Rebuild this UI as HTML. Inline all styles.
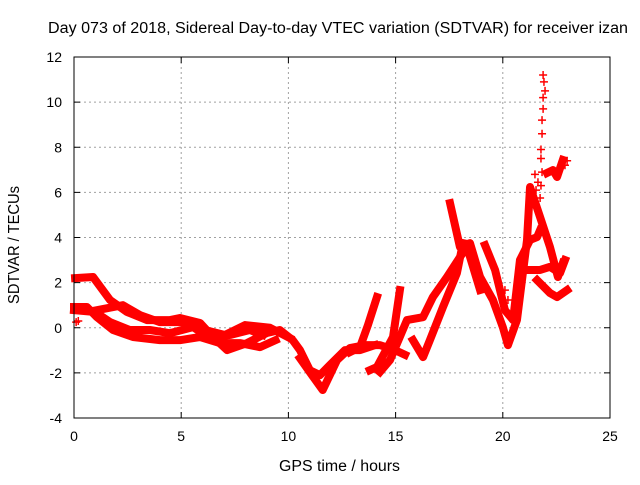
<!DOCTYPE html>
<html><head><meta charset="utf-8"><style>
body{margin:0;background:#fff}
svg text{font-family:"Liberation Sans",sans-serif;font-size:14px;fill:#000}
</style></head><body>
<svg width="640" height="480" xmlns="http://www.w3.org/2000/svg">
<rect width="640" height="480" fill="#fff"/>
<g id="grid"></g>
<g id="marks"></g>
<rect x="74" y="57" width="536" height="361" fill="none" stroke="#000" stroke-width="1"/>
<g id="ticks"></g>
<text x="48" y="33" textLength="580" lengthAdjust="spacingAndGlyphs" style="font-size:15.5px">Day 073 of 2018, Sidereal Day-to-day VTEC variation (SDTVAR) for receiver izan</text>
<text x="279" y="471" textLength="121" lengthAdjust="spacingAndGlyphs" style="font-size:15.5px">GPS time / hours</text>
<text transform="translate(19,304) rotate(-90)" textLength="118" lengthAdjust="spacingAndGlyphs" style="font-size:15.5px">SDTVAR / TECUs</text>
</svg>
<script>
const xTicks=[0,5,10,15,20,25];
const yTicks=[-4,-2,0,2,4,6,8,10,12];
const curveA=[[0.05,2.2],[0.89,2.25],[1.68,1.23],[2.47,0.7],[3.4,0.34],[4.48,0.34],[4.94,0.43],[5.88,0.21],[6.48,-0.41],[7.14,-0.99],[8.07,-0.68],[9.0,-0.23],[9.6,-0.1],[10.2,-0.55],[10.54,-0.99],[11.0,-1.88],[11.47,-2.1],[11.94,-1.65],[12.64,-0.99],[13.34,-0.99],[14.04,-0.77]];
const curveB=[[0,0.92],[0.6,0.92],[1.07,0.47],[1.82,-0.1],[2.75,-0.41],[4.0,-0.55],[4.94,-0.55],[5.88,-0.41],[6.8,-0.68],[7.74,-0.68],[8.68,-0.86],[9.4,-0.55]];
const curveC=[[0,0.78],[0.98,0.7],[1.68,0.25],[2.6,-0.1],[3.54,-0.1],[4.48,-0.24],[5.55,0.03],[6.34,-0.46],[7.28,-0.32],[8.2,-0.1],[8.8,-0.32]];
const curveD=[[1.07,0.78],[2.28,1.0],[3.08,0.56],[4.0,0.25],[5.18,0.25],[6.1,-0.1],[7.04,-0.32],[7.98,0.12],[9.14,0],[10.07,-0.46]];
const curveF=[[10.54,-1.35],[11.1,-2.1],[11.6,-2.76],[12.27,-1.43],[12.87,-0.9],[13.57,-0.77],[14.27,-0.77],[14.97,-0.99],[15.44,-1.2]];
const curveG=[[12.87,-1.08],[13.34,-0.86],[13.71,0.12],[14.13,1.36]];
const curveH=[[13.8,-1.88],[14.13,-1.74],[14.88,-0.41],[15.2,1.67]];
const curveI=[[14.27,-1.96],[14.74,-1.43],[15.53,0.34],[16.28,0.47],[16.74,1.36],[17.4,2.25],[18.0,3.13],[18.33,3.58],[18.94,1.67]];
const curveJ=[[15.81,-0.55],[16.28,-1.3],[16.6,-0.55],[17.21,0.92],[17.86,2.42],[18.14,3.75]];
const curveK=[[17.54,5.52],[18.0,3.58],[18.47,3.75],[18.94,2.25],[19.54,1.23],[20.0,0.03],[20.24,-0.77],[20.66,0.34],[21.13,3.89],[21.27,6.24],[21.74,4.9],[22.2,3.58],[22.57,2.25],[22.8,2.87]];
const curveL=[[19.17,3.66],[19.64,2.56],[20.1,0.78],[20.48,0.34],[20.8,3.0],[21.27,3.89],[21.6,4.02],[21.74,4.33]];
const curveL2=[[20.99,2.56],[21.74,2.56],[22.2,2.7],[22.67,2.42],[22.9,3.0]];
const curveM=[[21.6,2.11],[22.2,1.54],[22.53,1.36],[23.0,1.67]];
const curveN=[[22.06,6.86],[22.34,6.99],[22.53,6.68],[22.8,7.44]];
const sparseT=[0.1,0.2,21.88,21.92,21.97,21.88,21.88,21.83,21.83,21.78,21.78,21.83,21.78,21.74,21.5,21.64,21.55,20.1,20.24,22.9,23.0];
const sparseV=[0.25,0.3,11.2,10.9,10.5,10.2,9.7,9.2,8.6,7.9,7.5,6.9,6.3,5.75,6.8,6.45,6.1,1.67,1.23,7.2,7.4];
const NS='http://www.w3.org/2000/svg';
const X=t=>74+t*536/25;
const Y=v=>418-(v+4)*361/16;
function mk(tag,attrs,parent){const e=document.createElementNS(NS,tag);for(const k in attrs)e.setAttribute(k,attrs[k]);parent.appendChild(e);return e;}
const grid=document.getElementById('grid'),ticks=document.getElementById('ticks'),marks=document.getElementById('marks');
xTicks.forEach(t=>{
 if(t>0&&t<25){const g=mk('line',{x1:X(t),x2:X(t),y1:57,y2:418,stroke:'#a0a0a0','stroke-dasharray':'2,3'},grid);
 
 }
 mk('line',{x1:X(t),x2:X(t),y1:418,y2:412,stroke:'#000'},ticks);
 mk('line',{x1:X(t),x2:X(t),y1:57,y2:63,stroke:'#000'},ticks);
 const l=mk('text',{x:X(t),y:441,'text-anchor':'middle'},ticks);l.textContent=t;
 
 
});
yTicks.forEach(v=>{
 if(v>-4&&v<12){const g=mk('line',{x1:74,x2:610,y1:Y(v),y2:Y(v),stroke:'#a0a0a0','stroke-dasharray':'2,3'},grid);
 
 }
 mk('line',{x1:74,x2:80,y1:Y(v),y2:Y(v),stroke:'#000'},ticks);
 mk('line',{x1:604,x2:610,y1:Y(v),y2:Y(v),stroke:'#000'},ticks);
 const l=mk('text',{x:62,y:Y(v)+5,'text-anchor':'end'},ticks);l.textContent=v;
 
 
});
const curves=[curveA,curveB,curveC,curveD,curveF,curveG,curveH,curveI,curveJ,curveK,curveL,curveL2,curveM,curveN];
curves.forEach((c,i)=>{
 const p=mk('polyline',{points:c.map(d=>X(d[0])+','+Y(d[1])).join(' '),fill:'none',stroke:'#ff0000','stroke-width':8,'stroke-linejoin':'round','stroke-linecap':'square'},marks);
 
 
});
sparseT.forEach((t,i)=>{
 const x=X(t),y=Y(sparseV[i]);
 const p=mk('path',{d:`M${x-4},${y}H${x+4}M${x},${y-4}V${y+4}`,stroke:'#ff0000','stroke-width':1.5},marks);
 
 
});
</script>
</body></html>
